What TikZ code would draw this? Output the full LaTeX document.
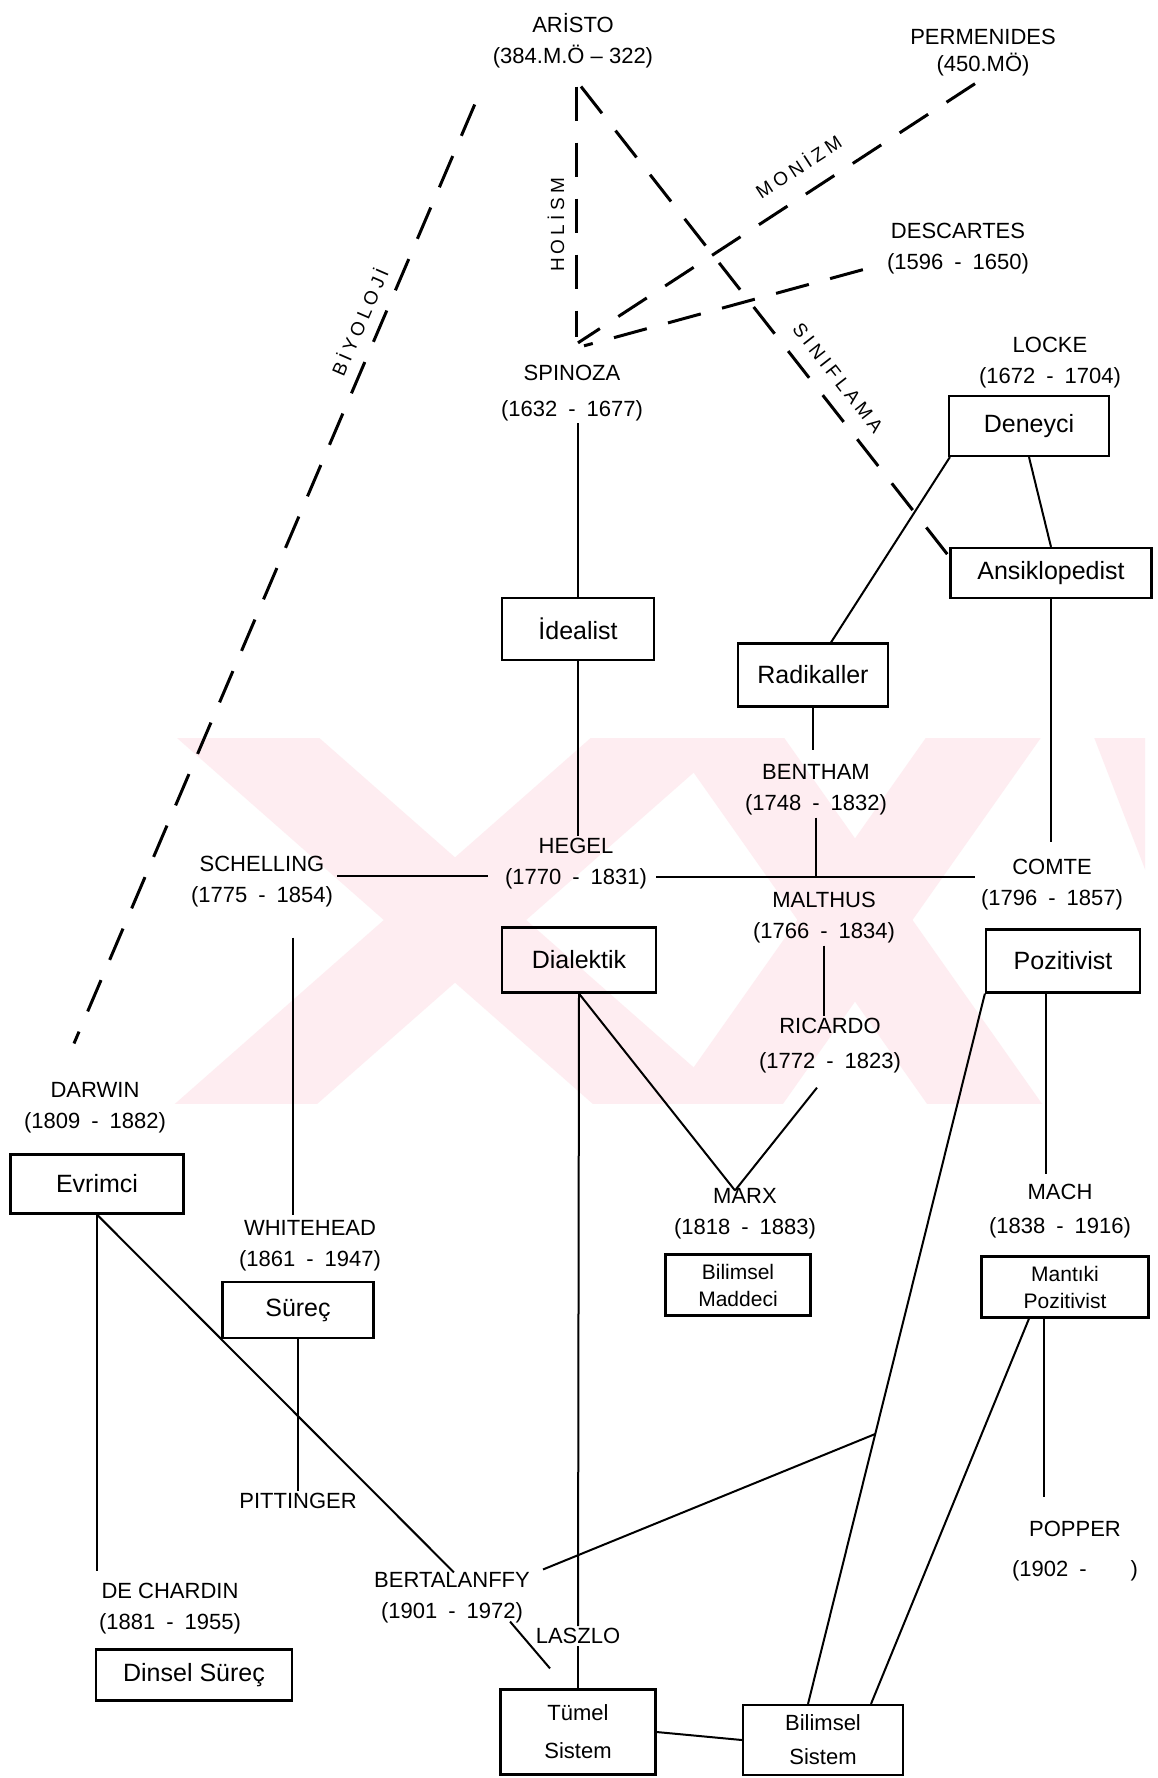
\documentclass[tikz,border=0pt]{standalone}
\usepackage{fontspec}
\setmainfont{Liberation Sans}
\usetikzlibrary{calc}
\definecolor{wm}{RGB}{254,237,241}
\begin{document}
\begin{tikzpicture}[x=1pt,y=-1pt,
  person/.style={align=center,font=\fontsize{22}{31}\selectfont,inner sep=2pt},
  single/.style={font=\fontsize{22}{26}\selectfont,inner sep=2pt},
  box/.style={draw,line width=2.2pt,align=center,font=\fontsize{25}{30}\selectfont,inner sep=2pt},
  box2/.style={box,font=\fontsize{22}{30}\selectfont},
  conn/.style={line width=2pt},
  dsh/.style={line width=3pt,dash pattern=on 34pt off 22pt},
  lbl/.style={font=\fontsize{19}{22}\selectfont\addfontfeature{LetterSpace=22},inner sep=1pt}]
\useasboundingbox (0,0) rectangle (1157,1778);
\fill[white] (0,0) rectangle (1157,1778);
% watermark
\begin{scope}
\clip (126,738) rectangle (1145,1103);
\draw[wm,line width=94] (205,700) -- (705,1140);
\draw[wm,line width=94] (705,700) -- (205,1140);
\draw[wm,line width=94] (700,700) -- (1010,1140);
\draw[wm,line width=94] (1010,700) -- (700,1140);
\draw[wm,line width=94] (1130,700) -- (1300,1140);
\end{scope}

% people
\node[person] (aristo) at (573,41) {ARİSTO\\(384.M.Ö – 322)};
\node[person,font=\fontsize{22}{27}\selectfont] (permenides) at (983,53) {PERMENIDES\\(450.MÖ)};
\node[person] (descartes) at (958,249) {DESCARTES\\(1596\enspace-\enspace1650)};
\node[person,font=\fontsize{22}{36}\selectfont] (spinoza) at (572,393) {SPINOZA\\(1632\enspace-\enspace1677)};
\node[person] (locke) at (1050,363) {LOCKE\\(1672\enspace-\enspace1704)};
\node[person] (bentham) at (816,790) {BENTHAM\\(1748\enspace-\enspace1832)};
\node[person] (hegel) at (576,864) {HEGEL\\(1770\enspace-\enspace1831)};
\node[person] (schelling) at (262,882) {SCHELLING\\(1775\enspace-\enspace1854)};
\node[person] (comte) at (1052,885) {COMTE\\(1796\enspace-\enspace1857)};
\node[person] (malthus) at (824,918) {MALTHUS\\(1766\enspace-\enspace1834)};
\node[person,font=\fontsize{22}{35}\selectfont] (ricardo) at (830,1046) {RICARDO\\(1772\enspace-\enspace1823)};
\node[person] (darwin) at (95,1108) {DARWIN\\(1809\enspace-\enspace1882)};
\node[person] (marx) at (745,1214) {MARX\\(1818\enspace-\enspace1883)};
\node[person,font=\fontsize{22}{34}\selectfont] (mach) at (1060,1211) {MACH\\(1838\enspace-\enspace1916)};
\node[person] (whitehead) at (310,1246) {WHITEHEAD\\(1861\enspace-\enspace1947)};
\node[single] (pittinger) at (298,1501) {PITTINGER};
\node[person,font=\fontsize{22}{40}\selectfont] (popper) at (1075,1551) {POPPER\\(1902\enspace-\qquad)};
\node[person] (bertalanffy) at (452,1598) {BERTALANFFY\\(1901\enspace-\enspace1972)};
\node[person] (dechardin) at (170,1609) {DE CHARDIN\\(1881\enspace-\enspace1955)};
\node[single] (laszlo) at (578,1636) {LASZLO};

% boxes
\node[box,minimum width=160,minimum height=60] (deneyci) at (1029,426) {Deneyci};
\node[box,minimum width=201,minimum height=50] (ansik) at (1051,573) {Ansiklopedist};
\node[box,minimum width=152,minimum height=62] (idealist) at (578,629) {İdealist};
\node[box,minimum width=150,minimum height=63] (radikal) at (813,675) {Radikaller};
\node[box,minimum width=154,minimum height=65] (dialektik) at (579,960) {Dialektik};
\node[box,minimum width=154,minimum height=63] (pozitivist) at (1063,961) {Pozitivist};
\node[box,minimum width=173,minimum height=59] (evrimci) at (97,1184) {Evrimci};
\node[box,minimum width=151,minimum height=56] (surec) at (298,1310) {Süreç};
\node[box2,minimum width=145,minimum height=61,font=\fontsize{21}{27}\selectfont] (maddeci) at (738,1285) {Bilimsel\\Maddeci};
\node[box2,minimum width=167,minimum height=61,font=\fontsize{21}{27}\selectfont] (mantiki) at (1065,1287) {Mantıki\\Pozitivist};
\node[box,minimum width=196,minimum height=51] (dinsel) at (194,1675) {Dinsel Süreç};
\node[box2,minimum width=155,minimum height=85,font=\fontsize{22}{38}\selectfont] (tumel) at (578,1732) {Tümel\\Sistem};
\node[box2,minimum width=160,minimum height=70,font=\fontsize{22}{34}\selectfont] (bilsis) at (823,1740) {Bilimsel\\Sistem};

% dashed connectors
\draw[dsh] ($(aristo.south)+(3,16)$) -- ($(spinoza.north)+(4,-26)$);
\draw[dsh] ($(permenides.south)+(-8,5)$) -- ($(spinoza.north)+(6,-20)$);
\draw[dsh] ($(descartes.south west)+(-22,-7)$) -- ($(spinoza.north)+(12,-17)$);
\draw[dsh] ($(aristo.south)+(8,16)$) -- ($(ansik.north west)+(0,10)$);
\draw[dsh] ($(aristo.south west)+(-16,34)$) -- ($(darwin.north)+(-21,-37)$);

% labels on dashed lines
\node[lbl,rotate=90] (lholism) at (556,225) {HOLİSM};
\node[lbl,rotate=33] (lmonism) at (798,166) {MONİZM};
\node[lbl,rotate=-52] (lsinif) at (838,378) {SINIFLAMA};
\node[lbl,rotate=66.6] (lbiyo) at (359,322) {BİYOLOJİ};

% solid connectors
\draw[conn] (spinoza.south -| idealist.north) -- (idealist.north);
\draw[conn] (idealist.south) -- (idealist.south |- hegel.north);
\draw[conn] ($(schelling.east)+(2,-6)$) -- ($(hegel.west)+(-15,12)$);
\coordinate (hc) at ($(hegel.east)+(7,13)$);
\draw[conn] (hc) -- ($(comte.west)+(-4,-8)$);
\draw[conn] (bentham.south) -- (bentham.south |- hc);
\draw[conn] (radikal.south) -- ($(radikal.south |- bentham.north)+(0,-12)$);
\draw[conn] ($(deneyci.south west)+(2,0)$) -- ($(radikal.north)+(18,0)$);
\draw[conn] (deneyci.south) -- (ansik.north);
\draw[conn] (ansik.south) -- ($(ansik.south |- comte.north)+(0,-15)$);
\draw[conn] (malthus.south) -- (malthus.south |- ricardo.north);
\coordinate (mx) at ($(marx.north)+(-10,4)$);
\draw[conn] (dialektik.south) -- (mx);
\draw[conn] ($(ricardo.south)+(-13,12)$) -- (mx);
\draw[conn] (dialektik.south) -- (laszlo.north);
\draw[conn] (laszlo.south) -- (tumel.north);
\draw[conn] ($(bertalanffy.south east)+(-22,-4)$) -- ($(tumel.north)+(-28,-20)$);
\draw[conn] (evrimci.south) -- ($(bertalanffy.north)+(2,2)$);
\draw[conn] (evrimci.south) -- ($(evrimci.south |- dechardin.north)+(0,-10)$);
\draw[conn] ($(schelling.south)+(31,28)$) -- ($(whitehead.north)+(-17,-3)$);
\draw[conn] (surec.south) -- (pittinger.north);
\draw[conn] ($(pozitivist.south)+(-17,0)$) -- ($(mach.north)+(-14,-8)$);
\draw[conn] ($(mantiki.south)+(-21,0)$) -- ($(popper.north)+(-31,-22)$);
\draw[conn] ($(mantiki.south)+(-36,0)$) -- ($(bilsis.north)+(48,0)$);
\coordinate (pz) at (pozitivist.south west);
\coordinate (bz) at ($(bilsis.north)+(-15,0)$);
\draw[conn] (pz) -- (bz);
\draw[conn] ($(bertalanffy.north east)+(11,-1)$) -- ($(pz)!0.62!(bz)$);
\draw[conn] (tumel.east) -- (bilsis.west);
\end{tikzpicture}
\end{document}
